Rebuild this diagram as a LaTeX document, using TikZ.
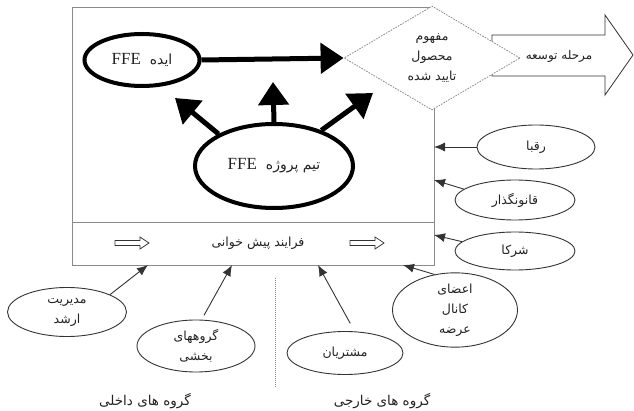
\documentclass[tikz,border=0pt]{standalone}
\usepackage{fontspec}
\setmainfont{Liberation Serif}
\newfontfamily\fafont[Script=Arabic]{DejaVu Sans}
\TeXXeTstate=1
\usetikzlibrary{shapes.geometric,arrows.meta}
\newcommand{\fatxt}[1]{{\fafont\beginR #1\endR}}
\definecolor{boxgray}{HTML}{8A8A8A}
\definecolor{linegray}{HTML}{333333}
\definecolor{txtc}{HTML}{222222}
\begin{document}
\begin{tikzpicture}[x=1pt,y=-1pt,
  fa/.style={font=\fafont\fontsize{12.5}{20}\selectfont, text=txtc, align=center},
  ell/.style={ellipse, draw=linegray, line width=0.9pt, inner sep=0pt, fa},
  thickell/.style={ellipse, draw=black, line width=4pt, inner sep=0pt, text=txtc,
                   font=\fafont\fontsize{14}{18}\selectfont},
  thinarr/.style={draw=linegray, line width=0.9pt, -{Latex[length=11pt,width=9pt]}},
  boldarr/.style={draw=black, line width=5pt, -{Triangle[length=23pt,width=30pt]}},
  hollow/.style={draw=linegray, line width=0.7pt, fill=white}
]
\useasboundingbox (0,0) rectangle (634,411);

% main box
\node[draw=boxgray, line width=0.9pt, minimum width=362pt, minimum height=258pt,
      anchor=north west, inner sep=0pt] (box) at (72,7) {};
\coordinate (divL) at (72,222);
\coordinate (divR) at (434,222);
\draw[boxgray, line width=0.9pt] (divL) -- (divR);

% big development arrow
\draw[linegray, line width=0.8pt, fill=white]
  (492,35) -- (605,35) -- (605,15) -- (633,55) -- (605,95) -- (605,76) -- (492,76) -- cycle;

% diamond
\node[diamond, draw=boxgray, line width=0.8pt, dash pattern=on 1.6pt off 1.2pt,
      fill=white, minimum width=176pt, minimum height=104pt, inner sep=0pt,
      fa] (concept) at (432,58)
  {\fatxt{مفهوم}\\\fatxt{محصول}\\\fatxt{تایید شده}};
\node[fa, font=\fafont\fontsize{12}{18}\selectfont] (dev) at (559,56) {\fatxt{مرحله توسعه}};

% thick ellipses
\node[thickell, minimum width=115pt, minimum height=52pt] (idea) at (142,60)
  {\fatxt{ایده \ \beginL{\rmfamily\fontsize{17}{19}\selectfont FFE}\endL}};
\node[thickell, minimum width=158pt, minimum height=84pt] (team) at (274,166)
  {\fatxt{تیم پروژه \ \beginL{\rmfamily\fontsize{17}{19}\selectfont FFE}\endL}};

\coordinate (tl) at (175,98);
\coordinate (tm) at (273,82);
\coordinate (tr) at (373,93);
\draw[boldarr] (idea.east) -- (concept.west);
\draw[boldarr] (team.150) -- (tl);
\draw[boldarr] (team.90) -- (tm);
\draw[boldarr] (team.37) -- (tr);

% pre-process strip
\node[fa] (pre) at (258,243) {\fatxt{فرایند پیش خوانی}};
\draw[hollow] (115,240.5) -- (140,240.5) -- (140,237) -- (149,243) -- (140,249) -- (140,245.5) -- (115,245.5) -- cycle;
\draw[hollow] (350,240.5) -- (375,240.5) -- (375,237) -- (384,243) -- (375,249) -- (375,245.5) -- (350,245.5) -- cycle;

% outer ellipses
\node[ell, minimum width=118pt, minimum height=44pt] (rival) at (536,147) {\fatxt{رقبا}};
\node[ell, minimum width=120pt, minimum height=40pt] (reg) at (515,200) {\fatxt{قانونگذار}};
\node[ell, minimum width=120pt, minimum height=38pt] (partner) at (515,251) {\fatxt{شرکا}};
\node[ell, minimum width=125pt, minimum height=70pt] (channel) at (455,310)
  {\fatxt{اعضای}\\\fatxt{کانال}\\\fatxt{عرضه}};
\node[ell, minimum width=119pt, minimum height=49pt] (mgmt) at (67,312)
  {\fatxt{مدیریت}\\\fatxt{ارشد}};
\node[ell, minimum width=118pt, minimum height=52pt] (dept) at (196,346)
  {\fatxt{گروههای}\\\fatxt{بخشی}};
\node[ell, minimum width=116pt, minimum height=43pt] (cust) at (345,353) {\fatxt{مشتریان}};

\coordinate (tRival) at (434,147);
\coordinate (tReg) at (434,180);
\coordinate (tPart) at (434,235);
\coordinate (tChan) at (403,265);
\coordinate (tMgmt) at (148,265);
\coordinate (tDept) at (232,265);
\coordinate (tCust) at (318,265);
\draw[thinarr] (rival.west) -- (tRival);
\draw[thinarr] (reg.168) -- (tReg);
\draw[thinarr] (partner.170) -- (tPart);
\draw[thinarr] (channel.120) -- (tChan);
\draw[thinarr] (mgmt.22) -- (tMgmt);
\draw[thinarr, shorten <=5pt] (dept.78) -- (tDept);
\draw[thinarr, shorten <=9pt] (cust.66) -- (tCust);

% divider and group labels
\coordinate (dTop) at (275,278);
\coordinate (dBot) at (275,387);
\draw[boxgray, line width=0.8pt, dash pattern=on 1pt off 1pt] (dTop) -- (dBot);
\node[fa, font=\fafont\fontsize{13.5}{18}\selectfont] (internal) at (145,401) {\fatxt{گروه های داخلی}};
\node[fa, font=\fafont\fontsize{13.5}{18}\selectfont] (external) at (382,401) {\fatxt{گروه های خارجی}};
\end{tikzpicture}
\end{document}
